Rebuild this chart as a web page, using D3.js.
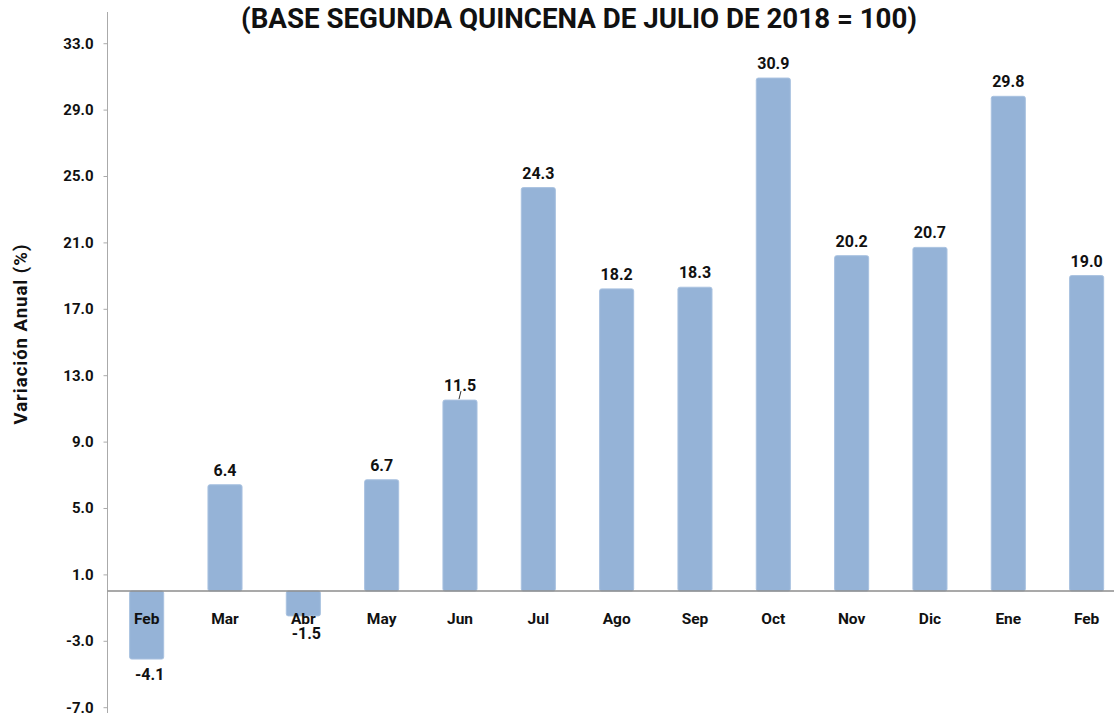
<!DOCTYPE html>
<html><head><meta charset="utf-8">
<script src="https://cdn.jsdelivr.net/npm/d3@7"></script>
<style>
body{margin:0;background:#fff;}
svg{display:block;font-family:Roboto, "Liberation Sans", sans-serif;}
</style></head>
<body><svg id="c" width="1114" height="713"></svg>
<script>
const categories = ["Feb","Mar","Abr","May","Jun","Jul","Ago","Sep","Oct","Nov","Dic","Ene","Feb"];
const values = [-4.1, 6.4, -1.5, 6.7, 11.5, 24.3, 18.2, 18.3, 30.9, 20.2, 20.7, 29.8, 19.0];
const tickValues = [-7, -3, 1, 5, 9, 13, 17, 21, 25, 29, 33];
const title = "(BASE SEGUNDA QUINCENA DE JULIO DE 2018 = 100)";
const yTitle = "Variación Anual (%)";

(function(){
const svg = d3.select("#c");
const W = 1114, H = 713;
const plotLeft = 107.5;
const step = 78.33;
const fmt = d => d.toFixed(1);
const x = d3.scaleBand().domain(d3.range(categories.length))
  .range([plotLeft, plotLeft + step*categories.length]).paddingInner(0.565).paddingOuter(0.2825);
const y = d3.scaleLinear().domain([-7.35, 34.88]).range([713, 12]);

// title
svg.append("text").attr("x", 579).attr("y", 28).attr("text-anchor","middle")
  .attr("font-size", 27.7).attr("font-weight", 700).attr("fill","#111")
  .text(title);

// y axis title
svg.append("text").attr("transform","translate(27,334) rotate(-90)")
  .attr("text-anchor","middle").attr("font-size",18.5).attr("font-weight",700).attr("fill","#111")
  .attr("letter-spacing",1)
  .text(yTitle);

// y axis
const yAxis = d3.axisLeft(y).tickValues(tickValues).tickSize(4).tickPadding(10)
  .tickFormat(fmt);
const ga = svg.append("g").attr("transform",`translate(${plotLeft},0)`).call(yAxis);
ga.select(".domain").attr("stroke","#aaa").attr("d", `M0,${y.range()[1]}V${y.range()[0]}`);
ga.selectAll(".tick line").attr("stroke","#aaa");
ga.selectAll(".tick text").attr("font-size",15).attr("font-weight",700).attr("fill","#111")
  .attr("font-family","Roboto, sans-serif");

// bars
svg.append("g").selectAll("rect").data(values).join("rect")
  .attr("x", (d,i)=>x(i)).attr("width", x.bandwidth())
  .attr("y", d=>y(Math.max(0,d))).attr("height", d=>Math.abs(y(d)-y(0)))
  .attr("rx",2).attr("fill","#95b3d7").attr("stroke","#a9c2e0").attr("stroke-width",1);

// zero line
svg.append("line").attr("x1",plotLeft).attr("x2",W).attr("y1",y(0)).attr("y2",y(0))
  .attr("stroke","#8c8c8c").attr("stroke-width",1.6);

// category labels
const xAxis = d3.axisBottom(x).tickSize(0).tickFormat(i=>categories[i]);
const gx = svg.append("g").attr("transform",`translate(0,${y(0)})`).call(xAxis);
gx.select(".domain").remove();
gx.selectAll(".tick text").attr("dy",0).attr("y",33).attr("font-size",15.5).attr("font-weight",700)
  .attr("fill","#111").attr("font-family","Roboto, sans-serif");

// data labels
svg.append("g").selectAll("text").data(values).join("text")
  .attr("x",(d,i)=>x(i)+x.bandwidth()/2 + (d<0 ? 3 : 0))
  .attr("y",d=> d>=0 ? y(d)-9 : y(d)+ (d < -3 ? 21 : 23))
  .attr("text-anchor","middle").attr("font-size",16).attr("font-weight",700).attr("fill","#111")
  .text(fmt);

// leader line for Jun label
const ji = 4;
svg.append("line").attr("x1",x(ji)+x.bandwidth()/2+1).attr("x2",x(ji)+x.bandwidth()/2-1)
  .attr("y1",y(values[ji])-9).attr("y2",y(values[ji])-1).attr("stroke","#333").attr("stroke-width",1);
})();
</script></body></html>
